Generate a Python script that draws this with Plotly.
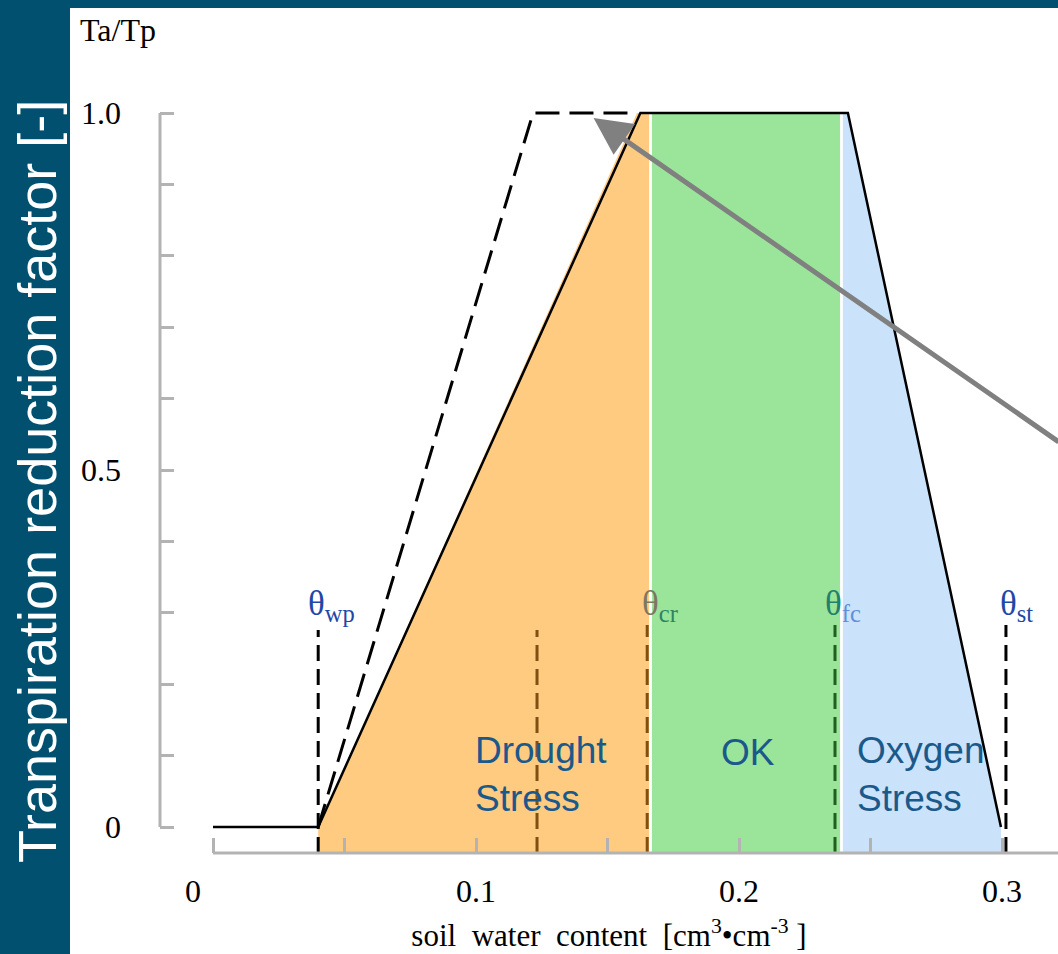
import plotly.graph_objects as go

# ---------------- data ----------------
# main (solid) reduction function  Ta/Tp vs soil water content
solid_x = [0.0, 0.040, 0.1625, 0.2414, 0.2996]
solid_y = [0.0, 0.0, 1.0, 1.0, 0.0]

# dashed reduction function (lower potential transpiration)
dash_x = [0.040, 0.1217, 0.1605]
dash_y = [0.0, 1.0, 1.0]

# shaded stress zones (polygons, bottom at axis baseline)
base = -0.0364
drought_x = [0.040, 0.040, 0.1612, 0.1658, 0.1658, 0.040]
drought_y = [base, 0.0, 1.0, 1.0, base, base]
ok_x = [0.1665, 0.1665, 0.2388, 0.2388, 0.1665]
ok_y = [base, 1.0, 1.0, base, base]
oxygen_x = [0.2395, 0.2395, 0.2414, 0.2996, 0.2996, 0.2395]
oxygen_y = [base, 1.0, 1.0, 0.0, base, base]

# vertical threshold markers
marker_x = [0.040, 0.1232, 0.1651, 0.2365, 0.3015]
marker_top = [0.276, 0.276, 0.283, 0.283, 0.283]
marker_color = ["#000000", "#7f5010", "#7f5010", "#1f5f1f", "#000000"]

# threshold labels
theta_names = ["wp", "cr", "fc", "st"]
theta_x = [0.0355, 0.1623, 0.2318, 0.2985]
theta_main_col = ["#1f48a6", "#7e7762", "#23806a", "#1f48a6"]
theta_sub_col = ["#1f48a6", "#2a8464", "#5f8fd6", "#1f48a6"]

# zone labels
zone_text = ["Drought<br>Stress", "OK", "Oxygen<br>Stress"]
zone_x = [0.0989, 0.2034, 0.2441]
zone_y = [0.0735, 0.105, 0.0735]
zone_anchor = ["left", "center", "left"]

# axis ticks
x_tick_vals = [0, 0.05, 0.1, 0.15, 0.2, 0.25, 0.3]
x_tick_text = ["0" + "\u00a0" * 5, "", "0.1", "", "0.2", "", "0.3"]
y_tick_vals = [i / 10 for i in range(11)]
y_tick_text = ["0", "", "", "", "", "0.5", "", "", "", "", "1.0"]

# arrow (tip on dashed curve plateau, tail beyond right edge)
arrow_tip = (0.1447, 0.993)
arrow_tail = (0.3221, 0.538)

# ---------------- figure ----------------
BAND = "#01506f"
GRAY = "#b3b3b3"
TXT = "#1b598a"
SERIF = "Liberation Serif, Times New Roman, serif"
SANS = "Liberation Sans, Arial, sans-serif"

fig = go.Figure()

fig.add_trace(go.Scatter(x=drought_x, y=drought_y, fill="toself", fillcolor="#fecb81",
                         line=dict(width=0), mode="lines", hoverinfo="skip"))
fig.add_trace(go.Scatter(x=ok_x, y=ok_y, fill="toself", fillcolor="#9be59b",
                         line=dict(width=2, color="white"), mode="lines", hoverinfo="skip"))
fig.add_trace(go.Scatter(x=oxygen_x, y=oxygen_y, fill="toself", fillcolor="#cae3fa",
                         line=dict(width=0), mode="lines", hoverinfo="skip"))

for mx, mt, mc in zip(marker_x, marker_top, marker_color):
    fig.add_trace(go.Scatter(x=[mx, mx], y=[base, mt], mode="lines",
                             line=dict(color=mc, width=3, dash="16px,8px"), hoverinfo="skip"))

fig.add_trace(go.Scatter(x=solid_x, y=solid_y, mode="lines",
                         line=dict(color="black", width=2.5), hoverinfo="skip"))
fig.add_trace(go.Scatter(x=dash_x, y=dash_y, mode="lines",
                         line=dict(color="black", width=3, dash="24px,10px"), hoverinfo="skip"))

annotations = []
# threshold labels
for name, tx, c1, c2 in zip(theta_names, theta_x, theta_main_col, theta_sub_col):
    annotations.append(dict(
        x=tx, y=0.31, xref="x", yref="y", xanchor="left", yanchor="middle", showarrow=False,
        text=f"<span style='color:{c1}'>θ</span><sub><span style='color:{c2}'>{name}</span></sub>",
        font=dict(family=SERIF, size=35, color=c1)))
# zone labels
for zt, zx, zy, za in zip(zone_text, zone_x, zone_y, zone_anchor):
    annotations.append(dict(x=zx, y=zy, xref="x", yref="y", xanchor=za, yanchor="middle",
                            align="left", showarrow=False, text=zt,
                            font=dict(family=SANS, size=37, color=TXT)))
# arrow
annotations.append(dict(x=arrow_tip[0], y=arrow_tip[1], ax=arrow_tail[0], ay=arrow_tail[1],
                        xref="x", yref="y", axref="x", ayref="y", text="", showarrow=True,
                        arrowhead=2, arrowsize=1.5, arrowwidth=5, arrowcolor="#808080"))
# Ta/Tp label
annotations.append(dict(x=(78 - 160) / 898, y=(853 - 30) / 845, xref="paper", yref="paper",
                        xanchor="left", yanchor="middle", showarrow=False, text="Ta/Tp",
                        font=dict(family=SERIF, size=32, color="black")))
# vertical band title
annotations.append(dict(x=(37 - 160) / 898, y=(853 - 482) / 845, xref="paper", yref="paper",
                        xanchor="center", yanchor="middle", showarrow=False, textangle=-90,
                        text="Transpiration reduction factor [-]",
                        font=dict(family=SANS, size=54, color="white")))

shapes = [
    # white canvas right of the band
    dict(type="rect", xref="paper", yref="paper", x0=(70 - 160) / 898, x1=1.01,
         y0=-0.2, y1=1.0, fillcolor="white", line=dict(width=0), layer="below"),
    # y axis line
    dict(type="line", xref="paper", yref="y", x0=0, x1=0, y0=0, y1=1,
         line=dict(color=GRAY, width=3)),
    # x axis line
    dict(type="line", xref="paper", yref="paper", x0=(213 - 160) / 898, x1=1.0, y0=0, y1=0,
         line=dict(color=GRAY, width=3)),
]

fig.update_layout(
    width=1058, height=954,
    margin=dict(l=160, r=0, t=8, b=101),
    paper_bgcolor=BAND, plot_bgcolor="white",
    showlegend=False,
    annotations=annotations, shapes=shapes,
    xaxis=dict(range=[-0.02015, 0.32129], showgrid=False, zeroline=False, showline=False,
               tickmode="array", tickvals=x_tick_vals, ticktext=x_tick_text,
               ticks="inside", ticklen=15, tickwidth=3, tickcolor=GRAY,
               ticklabelstandoff=16,
               tickfont=dict(family=SERIF, size=32, color="black"),
               title=dict(text="soil\u00a0\u00a0water\u00a0\u00a0content\u00a0\u00a0[cm<sup>3</sup>•cm<sup>-3</sup>\u00a0]",
                          font=dict(family=SERIF, size=31, color="black"), standoff=16),
               automargin=False),
    yaxis=dict(range=[-0.03641, 1.1471], showgrid=False, zeroline=False, showline=False,
               tickmode="array", tickvals=y_tick_vals, ticktext=y_tick_text,
               ticks="inside", ticklen=14, tickwidth=3, tickcolor=GRAY,
               ticklabelstandoff=38,
               tickfont=dict(family=SERIF, size=32, color="black"),
               automargin=False),
)

fig.write_html("out.html", config={"displayModeBar": False},
               post_script="document.body.style.margin='0';document.body.style.overflow='hidden';")
